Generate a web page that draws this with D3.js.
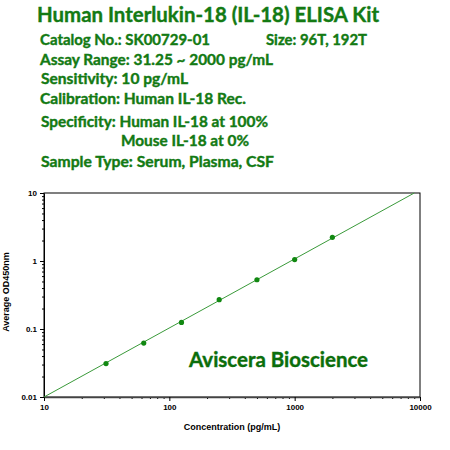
<!DOCTYPE html>
<html>
<head>
<meta charset="utf-8">
<script src="https://cdn.jsdelivr.net/npm/d3@7"></script>
<style>
  body { margin: 0; background: #fff; }
  svg { display: block; }
  .info { font-family: Lato, "Open Sans", sans-serif; font-weight: bold; fill: #137a13; stroke: #137a13; stroke-width: 0.4; }
  .axis text { font-family: "Liberation Sans", Arial, sans-serif; font-weight: bold; font-size: 8px; fill: #000; }
  .axis-title { font-family: "Liberation Sans", Arial, sans-serif; font-weight: bold; font-size: 9px; fill: #000; }
</style>
</head>
<body>
<div class="chart"></div>
<script>
// Standard curve data
var concentrations = [31.25, 62.5, 125, 250, 500, 1000, 2000];
var odValues = [0.031, 0.062, 0.125, 0.27, 0.53, 1.05, 2.23];

// fitted line end points
var fitConc = [10, 9000];
var fitOD = [0.01, 10];

var xTicks = [10, 100, 1000, 10000];
var xTickLabels = ["10", "100", "1000", "10000"];
var yTicks = [0.01, 0.1, 1, 10];
var yTickLabels = ["0.01", "0.1", "1", "10"];

var headerLines = [
    "Catalog No.: SK00729-01",
    "Assay Range: 31.25 ~ 2000 pg/mL",
    "Sensitivity: 10 pg/mL",
    "Calibration: Human IL-18 Rec.",
    "Specificity: Human IL-18 at 100%",
    "Mouse IL-18 at 0%",
    "Sample Type: Serum, Plasma, CSF"
];

(function(){
    var W = 450, H = 450;
    var margin = {top: 193, right: 30, bottom: 53, left: 44};
    var width = W - margin.left - margin.right;
    var height = H - margin.top - margin.bottom;

    var svg = d3.select(".chart").append("svg")
        .attr("width", W)
        .attr("height", H);

    // Header text
    svg.append("text")
        .attr("class", "info")
        .attr("x", 37)
        .attr("y", 22)
        .attr("textLength", 342)
        .attr("lengthAdjust", "spacingAndGlyphs")
        .style("font-size", "21px")
        .text("Human Interlukin-18 (IL-18) ELISA Kit");

    var lineX = [40, 40, 41, 40, 41, 121, 41];
    var lineY = [45, 65, 84, 104, 127, 146, 167];
    var lineW = [170, 233, 147, 206, 227, 128, 233];
    svg.selectAll(".info-line").data(headerLines).enter()
        .append("text")
        .attr("class", "info info-line")
        .attr("x", function(d, i){ return lineX[i]; })
        .attr("y", function(d, i){ return lineY[i]; })
        .attr("textLength", function(d, i){ return lineW[i]; })
        .attr("lengthAdjust", "spacingAndGlyphs")
        .style("font-size", "15px")
        .text(function(d){ return d; });

    svg.append("text")
        .attr("class", "info")
        .attr("x", 266)
        .attr("y", 45)
        .attr("textLength", 101)
        .attr("lengthAdjust", "spacingAndGlyphs")
        .style("font-size", "15px")
        .text("Size: 96T, 192T");

    var x = d3.scaleLog().domain([10, 10000]).range([0, width]);
    var y = d3.scaleLog().domain([0.01, 10]).range([height, 0]);

    var g = svg.append("g")
        .attr("transform", "translate(" + margin.left + "," + margin.top + ")");

    // frame
    g.append("rect")
        .attr("width", width)
        .attr("height", height)
        .attr("fill", "none")
        .attr("stroke", "#000")
        .attr("stroke-width", 1);

    // minor ticks
    var xMinor = x.ticks().filter(function(d){ return xTicks.indexOf(d) < 0; });
    var yMinor = y.ticks().filter(function(d){ return yTicks.indexOf(d) < 0; });

    g.append("g")
        .attr("class", "axis")
        .attr("transform", "translate(0," + height + ")")
        .call(d3.axisBottom(x).tickValues(xMinor).tickSize(2).tickFormat(""))
        .call(function(s){ s.select(".domain").remove(); });

    g.append("g")
        .attr("class", "axis")
        .call(d3.axisLeft(y).tickValues(yMinor).tickSize(2).tickFormat(""))
        .call(function(s){ s.select(".domain").remove(); });

    // major axes
    var xAxis = g.append("g")
        .attr("class", "axis x-axis")
        .attr("transform", "translate(0," + height + ")")
        .call(d3.axisBottom(x).tickValues(xTicks).tickSize(4).tickSizeOuter(0)
            .tickFormat(function(d, i){ return xTickLabels[i]; }));
    xAxis.select(".domain").attr("stroke", "#444").attr("stroke-width", 1.6);

    g.append("g")
        .attr("class", "axis y-axis")
        .call(d3.axisLeft(y).tickValues(yTicks).tickSize(4).tickSizeOuter(0)
            .tickFormat(function(d, i){ return yTickLabels[i]; }));

    // axis titles
    svg.append("text")
        .attr("class", "axis-title")
        .attr("text-anchor", "middle")
        .attr("x", 232)
        .attr("y", 430)
        .text("Concentration (pg/mL)");

    svg.append("text")
        .attr("class", "axis-title")
        .attr("text-anchor", "middle")
        .attr("transform", "translate(9,292) rotate(-90)")
        .text("Average OD450nm");

    // fitted line
    var fit = fitConc.map(function(c, i){ return [c, fitOD[i]]; });
    g.append("path")
        .datum(fit)
        .attr("fill", "none")
        .attr("stroke", "#3a9a3a")
        .attr("stroke-width", 1)
        .attr("d", d3.line()
            .x(function(d){ return x(d[0]); })
            .y(function(d){ return y(d[1]); }));

    // points
    g.selectAll(".pt").data(concentrations).enter()
        .append("circle")
        .attr("class", "pt")
        .attr("cx", function(d){ return x(d); })
        .attr("cy", function(d, i){ return y(odValues[i]); })
        .attr("r", 2.6)
        .attr("fill", "#118811");

    // watermark
    svg.append("text")
        .attr("class", "info")
        .attr("x", 189)
        .attr("y", 367)
        .attr("textLength", 179)
        .attr("lengthAdjust", "spacingAndGlyphs")
        .style("font-size", "20px")
        .style("fill", "#0b6e0b")
        .style("stroke", "#0b6e0b")
        .text("Aviscera Bioscience");
})();
</script>
</body>
</html>
